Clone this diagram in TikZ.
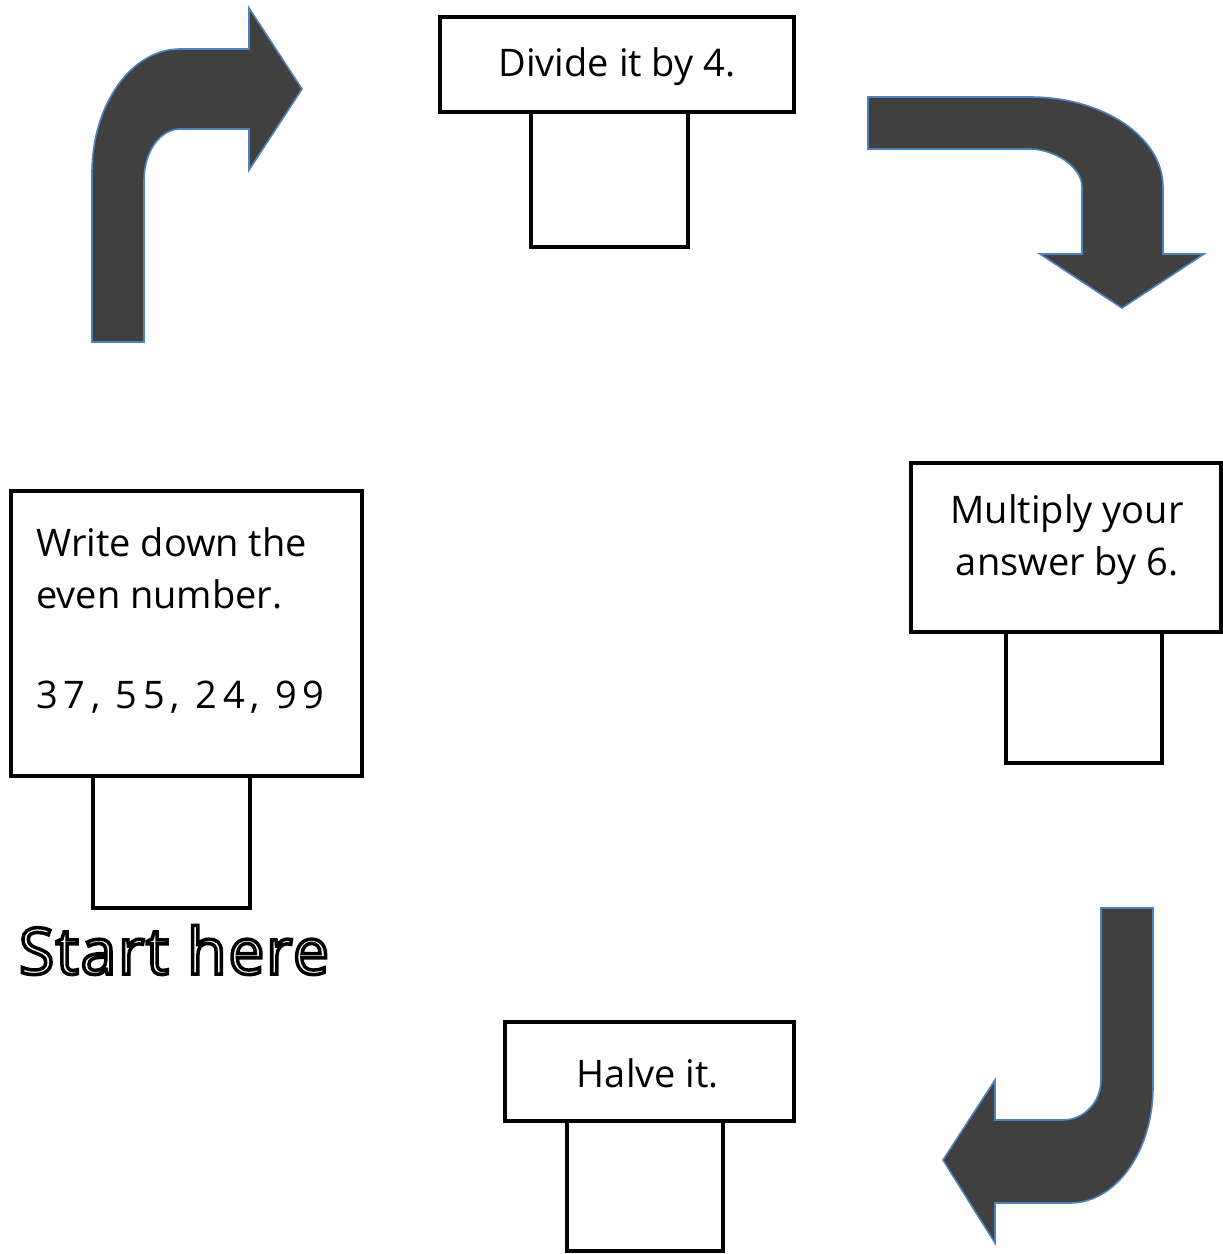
\documentclass[tikz,border=0pt]{standalone}
\usepackage{fontspec}
\setmainfont{Open Sans}
\usetikzlibrary{calc}
\definecolor{arrowfill}{HTML}{404040}
\definecolor{arrowedge}{HTML}{4F81BD}
\tikzset{
  bigbox/.style={draw=black, line width=4.5pt, fill=white, anchor=north west, inner sep=0pt, outer sep=0pt},
  smallbox/.style={draw=black, line width=3.5pt, fill=white, anchor=north west, inner sep=0pt, outer sep=0pt},
  bentarrow/.style={fill=arrowfill, draw=arrowedge, line width=1.6pt, line join=miter},
  boxtext/.style={font=\fontsize{38}{50}\selectfont, inner sep=0pt, text=black},
  starttext/.style={font=\fontsize{64}{74}\selectfont\addfontfeature{LetterSpace=3}, inner sep=0pt}
}
\begin{document}
\begin{tikzpicture}[x=1pt,y=-1pt]
\useasboundingbox (0,0) rectangle (1223,1254);

% bent arrows
\draw[bentarrow] (92,342) -- (92,173) .. controls (92,104.5) and (131.4,49) .. (180,49)
  -- (249,49) -- (249,8) -- (302,89) -- (249,170) -- (249,129) -- (180,129)
  .. controls (160,129) and (144,152) .. (144,180) -- (144,342) -- cycle;

\draw[bentarrow] (868,97) -- (1030,97) .. controls (1103,97) and (1163,137) .. (1163,187)
  -- (1163,254) -- (1204,254) -- (1122,308) -- (1040,254) -- (1082,254) -- (1082,187)
  .. controls (1082,166) and (1053,149) .. (1030,149) -- (868,149) -- cycle;

\draw[bentarrow] (1101,908) -- (1153,908) -- (1153,1087) .. controls (1153,1151) and (1116,1203) .. (1070,1203)
  -- (995,1203) -- (995,1243) -- (943,1160) -- (995,1080) -- (995,1120) -- (1063,1120)
  .. controls (1084,1120) and (1101,1102) .. (1101,1080) -- cycle;

% small answer boxes
\node[smallbox, minimum width=157pt, minimum height=135pt] (ansdiv) at (531,112) {};
\node[smallbox, minimum width=156pt, minimum height=135pt] (ansmul) at (1006,628) {};
\node[smallbox, minimum width=157pt, minimum height=135pt] (answrite) at (93,773) {};
\node[smallbox, minimum width=156pt, minimum height=130pt] (anshalve) at (567,1121) {};

% instruction boxes
\node[bigbox, minimum width=354pt, minimum height=95pt] (divbox) at (440,17) {};
\node[bigbox, minimum width=310pt, minimum height=169pt] (mulbox) at (911,463) {};
\node[bigbox, minimum width=351pt, minimum height=285pt] (writebox) at (11,491) {};
\node[bigbox, minimum width=289pt, minimum height=99pt] (halvebox) at (505,1022) {};

% texts
\node[boxtext] (divtext) at (617,67) {Divide it by 4.};
\node[boxtext] (multext1) at (1067,514) {Multiply your};
\node[boxtext] (multext2) at (1067,566) {answer by 6.};
\node[boxtext, anchor=west] (wrtext1) at (36,542) {Write down the};
\node[boxtext, anchor=west] (wrtext2) at (36,594) {even number.};
\node[boxtext, anchor=west] (wrtext3) at (36,697) {\addfontfeature{LetterSpace=15}37, 55, 24, 99};
\node[boxtext] (halvetext) at (648,1073) {Halve it.};

% Start here (white letters with black outline)
\node[starttext] (starttext) at (174,950)
  {\color{white}\special{pdf:literal direct 2 Tr 3.5 w 0 0 0 RG}Start here\special{pdf:literal direct 0 Tr}};
\end{tikzpicture}
\end{document}
